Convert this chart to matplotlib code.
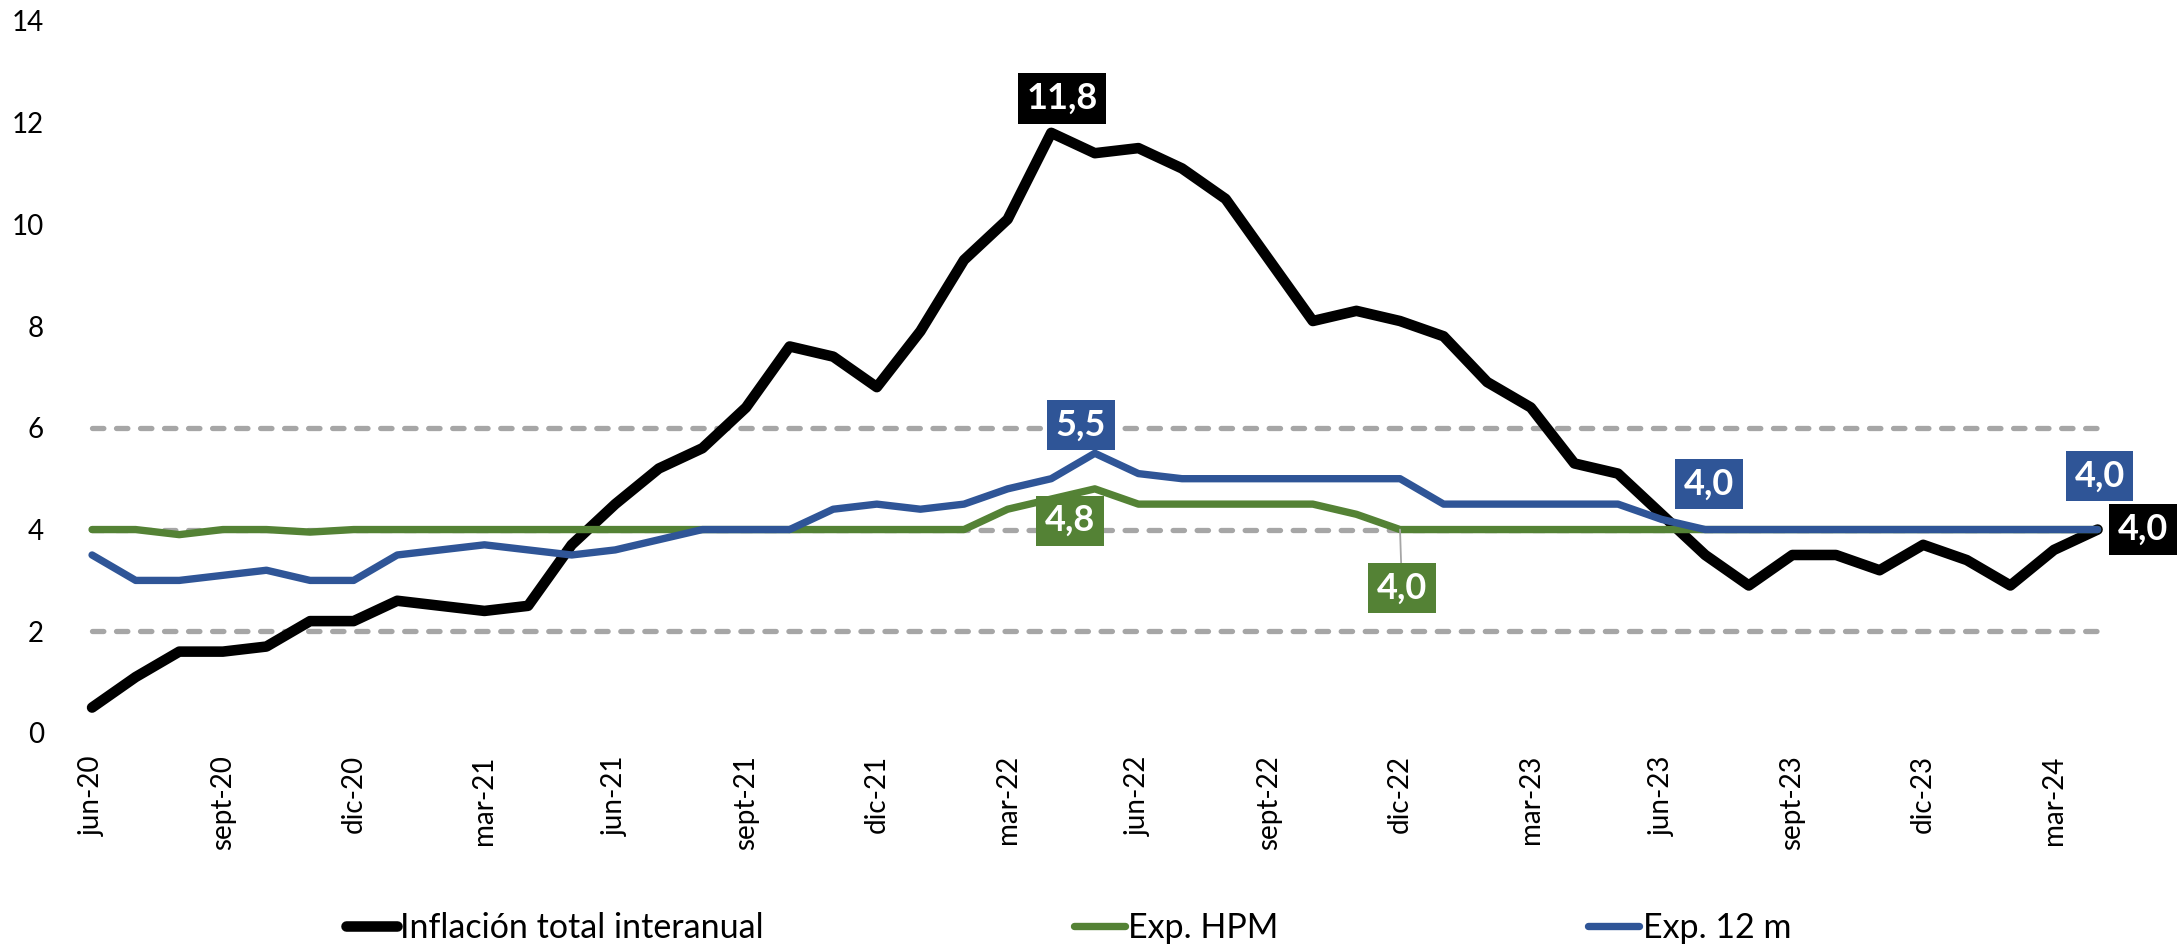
import matplotlib
matplotlib.use("Agg")
import matplotlib.pyplot as plt
import numpy as np

plt.rcParams["font.family"] = ["Lato", "DejaVu Sans"]

# Monthly series, jun-20 .. apr-24
inflacion = [0.5, 1.1, 1.6, 1.6, 1.7, 2.2, 2.2, 2.6, 2.5, 2.4, 2.5, 3.7,
             4.5, 5.2, 5.6, 6.4, 7.6, 7.4, 6.8, 7.9, 9.3, 10.1, 11.8, 11.4,
             11.5, 11.1, 10.5, 9.3, 8.1, 8.3, 8.1, 7.8, 6.9, 6.4, 5.3, 5.1,
             4.3, 3.5, 2.9, 3.5, 3.5, 3.2, 3.7, 3.4, 2.9, 3.6, 4.0]
exp_hpm = [4.0, 4.0, 3.9, 4.0, 4.0, 3.95, 4.0, 4.0, 4.0, 4.0, 4.0, 4.0,
           4.0, 4.0, 4.0, 4.0, 4.0, 4.0, 4.0, 4.0, 4.0, 4.4, 4.6, 4.8,
           4.5, 4.5, 4.5, 4.5, 4.5, 4.3, 4.0, 4.0, 4.0, 4.0, 4.0, 4.0,
           4.0, 4.0, 4.0, 4.0, 4.0, 4.0, 4.0, 4.0, 4.0, 4.0, 4.0]
exp_12m = [3.5, 3.0, 3.0, 3.1, 3.2, 3.0, 3.0, 3.5, 3.6, 3.7, 3.6, 3.5,
           3.6, 3.8, 4.0, 4.0, 4.0, 4.4, 4.5, 4.4, 4.5, 4.8, 5.0, 5.5,
           5.1, 5.0, 5.0, 5.0, 5.0, 5.0, 5.0, 4.5, 4.5, 4.5, 4.5, 4.5,
           4.2, 4.0, 4.0, 4.0, 4.0, 4.0, 4.0, 4.0, 4.0, 4.0, 4.0]
tick_labels = ["jun-20", "sept-20", "dic-20", "mar-21", "jun-21", "sept-21",
               "dic-21", "mar-22", "jun-22", "sept-22", "dic-22", "mar-23",
               "jun-23", "sept-23", "dic-23", "mar-24"]
target_band = [2, 4, 6]

BLACK = "#000000"
GREEN = "#548235"
BLUE = "#2F5597"
GREY = "#A6A6A6"

x = np.arange(len(inflacion))

fig = plt.figure(figsize=(21.82, 9.48), dpi=100)
ax = fig.add_axes([0.0322, 0.2268, 0.9391, 0.7511])

# target band lines (2-6 %, centre 4 %)
ax.hlines(target_band, x[0], x[-1], colors=GREY, linewidth=3.8,
          linestyles=(0, (2.15, 2.4)), capstyle="round", zorder=1)

style = dict(solid_joinstyle="round", solid_capstyle="round")
ax.plot(x, inflacion, color=BLACK, linewidth=7.6, zorder=3,
        label="Inflación total interanual", **style)
ax.plot(x, exp_hpm, color=GREEN, linewidth=5.3, zorder=4, label="Exp. HPM", **style)
ax.plot(x, exp_12m, color=BLUE, linewidth=5.3, zorder=5, label="Exp. 12 m", **style)


def tag(i, series, color, dx, dy, leader=False):
    val = series[i]
    arrow = dict(arrowstyle="-", color=GREY, lw=1.3, shrinkA=0, shrinkB=0) if leader else None
    ax.annotate(f"{val:.1f}".replace(".", ","), xy=(x[i], val),
                xytext=(dx, dy), textcoords="offset points",
                ha="center", va="center", fontsize=26, fontweight="bold",
                color="white", zorder=10, annotation_clip=False,
                arrowprops=arrow,
                bbox=dict(boxstyle="square,pad=0.24", fc=color, ec="none"))


tag(22, inflacion, BLACK, 7.7, 24.8)
tag(23, exp_12m, BLUE, -10.2, 20.5)
tag(23, exp_hpm, GREEN, -17.9, -22.9)
tag(30, exp_hpm, GREEN, 1.4, -42.2, leader=True)
tag(37, exp_12m, BLUE, 2.7, 32.7)
tag(46, exp_12m, BLUE, 1.4, 38.4)
tag(46, inflacion, BLACK, 32.7, 0)

ax.set_xlim(-0.5, len(x) - 0.5)
ax.set_ylim(0, 14)
ax.set_yticks(range(0, 15, 2))
ax.set_xticks(x[::3])
ax.set_xticklabels(tick_labels, rotation=90)
ax.tick_params(axis="y", length=0, pad=19, labelsize=20)
ax.tick_params(axis="x", length=0, pad=16, labelsize=20)
for s in ax.spines.values():
    s.set_visible(False)

fig.legend(loc="center left", bbox_to_anchor=(346 / 2182, 20 / 948),
           ncol=3, frameon=False, fontsize=24.5, borderpad=0, borderaxespad=0,
           handlelength=1.5, handletextpad=0.1, columnspacing=9.1)

fig.savefig("out.png", dpi=100)
